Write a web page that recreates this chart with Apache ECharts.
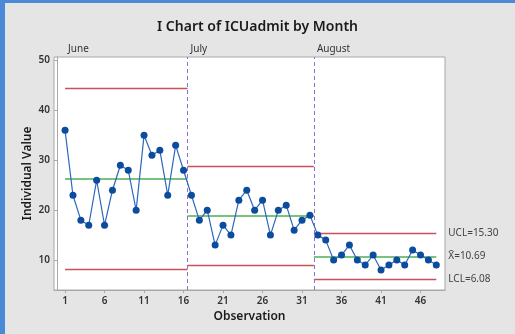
<!DOCTYPE html>
<html>
<head>
<meta charset="utf-8">
<script src="https://cdn.jsdelivr.net/npm/echarts@6/dist/echarts.min.js"></script>
<style>
  html, body { margin: 0; padding: 0; }
  body { width: 515px; height: 334px; background: #e5e5e5; box-sizing: border-box;
         border-left: 5px solid #4a8ad6; border-top: 3px solid #4a8ad6; }
  #chart { position: absolute; left: 0; top: 0; width: 515px; height: 334px; }
</style>
</head>
<body>
<div id="chart"></div>
<script>
// ICU admissions per observation, grouped by month
const months = ['June', 'July', 'August'];
const juneValues = [36, 23, 18, 17, 26, 17, 24, 29, 28, 20, 35, 31, 32, 23, 33, 28];
const julyValues = [23, 18, 20, 13, 17, 15, 22, 24, 20, 22, 15, 20, 21, 16, 18, 19];
const augustValues = [15, 14, 10, 11, 13, 10, 9, 11, 8, 9, 10, 9, 12, 11, 10, 9];

// Control limits per month (UCL, centre line, LCL)
const uclValues = [44.34, 28.87, 15.30];
const centerValues = [26.25, 18.94, 10.69];
const lclValues = [8.16, 9.01, 6.08];

// Month segment boundaries on the observation axis
const segmentStarts = [1, 16.5, 32.5];
const segmentEnds = [16.5, 32.5, 48];
const monthBreaks = [16.5, 32.5];

// Axis tick labels
const xTicks = [1, 6, 11, 16, 21, 26, 31, 36, 41, 46];
const yTicks = [10, 20, 30, 40, 50];

const allValues = juneValues.concat(julyValues, augustValues);
const points = allValues.map((v, i) => [i + 1, v]);

const FONT = 'Noto Sans';

function limitSegments(vals, lastLabel) {
  return vals.map((v, i) => {
    const isLast = i === vals.length - 1 && lastLabel;
    const label = isLast
      ? { show: true, position: 'end', distance: 12, formatter: lastLabel,
          color: '#444', fontSize: 10, fontFamily: FONT }
      : { show: false };
    return [
      { coord: [segmentStarts[i], v], label: label },
      { coord: [segmentEnds[i], v], label: label }
    ];
  });
}

const chart = echarts.init(document.getElementById('chart'), null, { renderer: 'canvas' });

const option = {
  backgroundColor: 'transparent',
  animation: false,
  title: {
    text: 'I Chart of ICUadmit by Month',
    left: 'center', top: 15,
    textStyle: { fontFamily: FONT, fontSize: 14, fontWeight: 600, color: '#1a1a1a' }
  },
  grid: { left: 54, right: 70, top: 57, bottom: 44, show: true, backgroundColor: '#ffffff',
          borderColor: '#a8a8a8', borderWidth: 1 },
  xAxis: {
    type: 'value', min: -0.4, max: 49.1,
    name: 'Observation', nameLocation: 'middle', nameGap: 21, nameMoveOverlap: false,
    nameTextStyle: { fontFamily: FONT, fontSize: 12, fontWeight: 600, color: '#1a1a1a' },
    axisLine: { show: true, lineStyle: { color: '#a8a8a8' } },
    axisTick: { show: true, length: 3, lineStyle: { color: '#a8a8a8' }, customValues: xTicks },
    axisLabel: { customValues: xTicks, fontFamily: FONT, fontSize: 10, fontWeight: 600,
                 color: '#333', margin: 6 },
    splitLine: { show: false }
  },
  yAxis: {
    type: 'value', min: 4, max: 50.7,
    name: 'Individual Value', nameLocation: 'middle', nameGap: 20, nameRotate: 90,
    nameMoveOverlap: false,
    nameTextStyle: { fontFamily: FONT, fontSize: 12, fontWeight: 600, color: '#1a1a1a' },
    axisLine: { show: true, lineStyle: { color: '#a8a8a8' } },
    axisTick: { show: true, length: 3, lineStyle: { color: '#a8a8a8' }, customValues: yTicks },
    axisLabel: { customValues: yTicks, fontFamily: FONT, fontSize: 10, fontWeight: 600,
                 color: '#333', margin: 4 },
    splitLine: { show: false }
  },
  series: [
    {
      name: 'Limits', type: 'line', data: [], silent: true,
      markLine: {
        silent: true, symbol: 'none', animation: false,
        lineStyle: { type: 'solid', width: 1.3, color: '#c8525c' },
        data: limitSegments(uclValues, 'UCL=15.30')
          .concat(limitSegments(lclValues, 'LCL=6.08'))
      }
    },
    {
      name: 'Center', type: 'line', data: [], silent: true,
      markLine: {
        silent: true, symbol: 'none', animation: false,
        lineStyle: { type: 'solid', width: 1.5, color: '#4cae54' },
        data: limitSegments(centerValues, 'X\u0304=10.69')
      }
    },
    {
      name: 'Breaks', type: 'line', data: [], silent: true,
      markLine: {
        silent: true, symbol: 'none', animation: false,
        label: { show: false },
        lineStyle: { type: [4, 3], width: 1, color: '#8e6fd0' },
        data: monthBreaks.map(x => ({ xAxis: x }))
      }
    },
    {
      name: 'ICUadmit', type: 'line', data: points, z: 5,
      symbol: 'circle', symbolSize: 7, showAllSymbol: true,
      lineStyle: { color: '#2d67bd', width: 1.2 },
      itemStyle: { color: '#0b4c9e' }
    }
  ]
};

chart.setOption(option);

// Month names above each segment
const monthLabelX = [1, 16.5, 32.5];
const topY = chart.convertToPixel({ gridIndex: 0 }, [0, 50.7])[1];
chart.setOption({
  graphic: months.map((m, i) => {
    const px = chart.convertToPixel({ gridIndex: 0 }, [monthLabelX[i], 50])[0];
    return {
      type: 'text', left: px + 3, top: topY - 13,
      style: { text: m, fontFamily: FONT, fontSize: 10, fill: '#333' }
    };
  })
});
</script>
</body>
</html>
